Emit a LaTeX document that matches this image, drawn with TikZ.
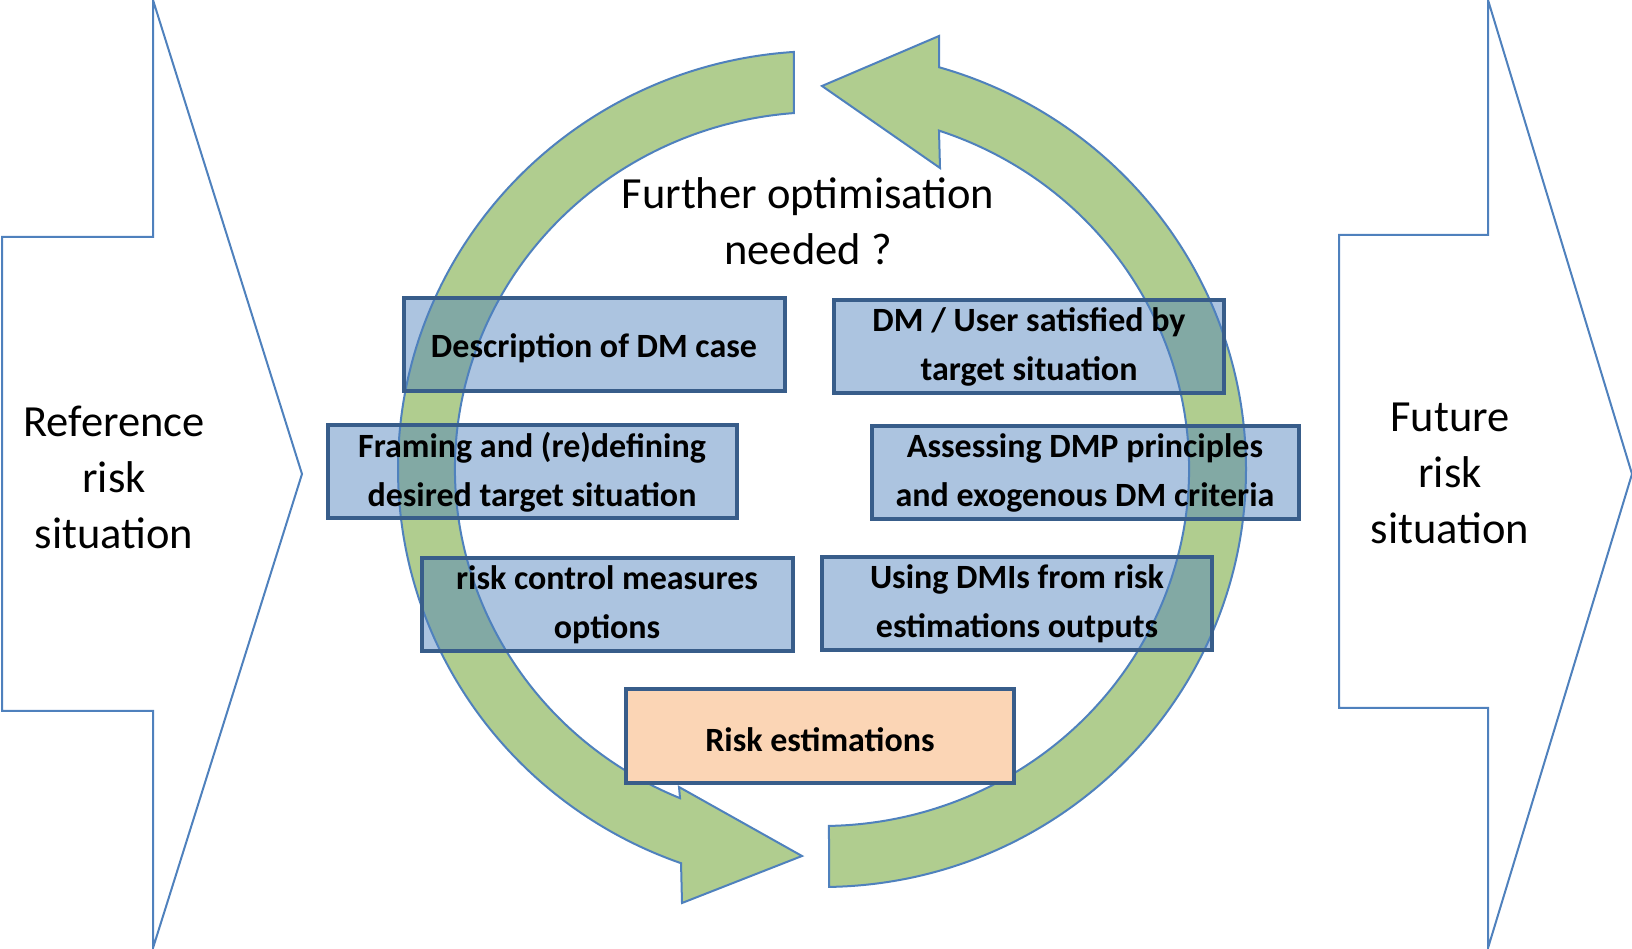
\documentclass[tikz,border=0pt]{standalone}
\usepackage{fontspec}
\setmainfont{Carlito}
\definecolor{ringgreen}{RGB}{176,205,143}
\definecolor{ringline}{RGB}{79,129,189}
\definecolor{boxblue}{RGB}{79,129,189}
\definecolor{boxline}{RGB}{56,93,138}
\definecolor{peach}{RGB}{251,213,181}
\tikzstyle{ring arrow} = [fill=ringgreen, draw=ringline, line width=2pt]
\tikzstyle{side arrow} = [draw=ringline, line width=2pt]
\tikzstyle{task} = [draw=boxline, line width=4pt, fill=boxblue, fill opacity=0.47, text opacity=1, minimum height=93pt, inner sep=0pt, align=center, font=\fontsize{34}{49}\selectfont\bfseries, execute at begin node={\rule{0pt}{31pt}}]
\tikzstyle{estim} = [task, fill=peach, fill opacity=1]
\tikzstyle{big text} = [align=center, font=\fontsize{44.5}{56}\selectfont]

\begin{document}
\begin{tikzpicture}[x=1pt,y=1pt]
  \useasboundingbox (0,0) rectangle (1632,948);
  % Situations
  \draw[side arrow] (2,711) -- (153,711) -- (153,948) -- (302,474) -- (153,0) -- (153,237) -- (2,237) -- cycle;
  \draw[side arrow] (1339,713) -- (1488,713) -- (1488,948) -- (1632,474) -- (1488,0) -- (1488,240) -- (1339,240) -- cycle;
  \node[big text] (ref) at (114,471) {Reference\\risk\\situation};
  \node[big text] (fut) at (1450,475) {Future\\risk\\situation};
  % Loop
  \begin{scope}[shift={(822,479)}]
    \draw[ring arrow] (93.79:424 and 418) arc[start angle=93.79, end angle=250.58, x radius=424, y radius=418]
      -- (-140,-434) -- (-20,-387) -- (-143,-318) -- (247.24:367 and 357)
      arc[start angle=247.24, end angle=94.38, x radius=367, y radius=357] -- cycle;
    \draw[ring arrow] (-89.05:424 and 418) arc[start angle=-89.05, end angle=73.98, x radius=424, y radius=418]
      -- (117,433) -- (0,383) -- (118,301) -- (71.41:367 and 357)
      arc[start angle=71.41, end angle=-88.91, x radius=367, y radius=357] -- cycle;
  \end{scope}
  \node[big text] (further) at (808,727) {Further optimisation\\needed ?};
  % Steps
  \node[task, minimum width=381pt] (desc) at (594,603) {Description of DM case};
  \node[task, minimum width=390pt] (user) at (1029,601) {DM / User satisfied by\\target situation};
  \node[task, minimum width=409pt] (frame) at (532,476) {Framing and (re)defining\\desired target situation};
  \node[task, minimum width=427pt] (assess) at (1085,475) {Assessing DMP principles\\and exogenous DM criteria};
  \node[task, minimum width=371pt] (ctrl) at (607,343) {risk control measures\\options};
  \node[task, minimum width=390pt] (dmi) at (1017,344) {Using DMIs from risk\\estimations outputs};
  \node[estim, minimum width=388pt] (est) at (820,212) {Risk estimations};
\end{tikzpicture}
\end{document}
